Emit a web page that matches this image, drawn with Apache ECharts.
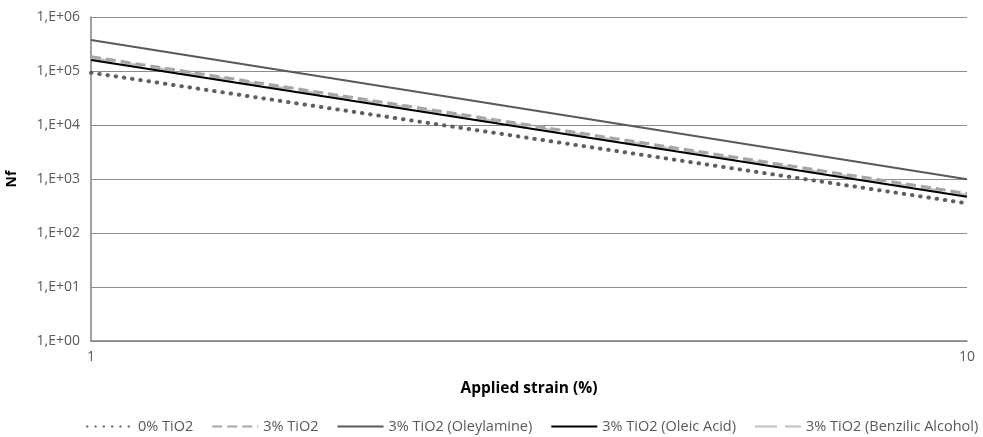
<!DOCTYPE html>
<html>
<head>
<meta charset="utf-8">
<script src="https://cdn.jsdelivr.net/npm/echarts@6/dist/echarts.min.js"></script>
<style>
  html, body { margin: 0; padding: 0; background: #fff; }
  #chart { width: 983px; height: 437px; }
</style>
</head>
<body>
<div id="chart"></div>
<script>
// Fatigue life (Nf) versus applied strain, power-law fits on log-log axes.
const strain = [1, 10];
const seriesNames = [
  '0% TiO2',
  '3% TiO2',
  '3% TiO2 (Oleylamine)',
  '3% TiO2 (Oleic Acid)',
  '3% TiO2 (Benzilic Alcohol)'
];
const nfPure = [93000, 355];
const nfTiO2 = [184000, 540];
const nfOleylamine = [375000, 990];
const nfOleicAcid = [160000, 470];
const nfBenzilic = [172000, 500];

const font = '"Open Sans", "Liberation Sans", sans-serif';
const pair = (ys) => strain.map((x, i) => [x, ys[i]]);

const styles = [
  { color: '#5f5f5f', width: 4, type: [0.5, 7.8], cap: 'round' },
  { color: '#a6a6a6', width: 3, type: [10, 5], cap: 'butt' },
  { color: '#595959', width: 2, type: 'solid', cap: 'butt' },
  { color: '#000000', width: 2, type: 'solid', cap: 'butt' },
  { color: '#bfbfbf', width: 3, type: [22, 8], cap: 'butt' }
];
const values = [nfPure, nfTiO2, nfOleylamine, nfOleicAcid, nfBenzilic];
const drawOrder = [4, 1, 2, 3, 0];

const chart = echarts.init(document.getElementById('chart'), null, { renderer: 'canvas' });
chart.setOption({
  animation: false,
  backgroundColor: '#ffffff',
  grid: { left: 91, right: 16, top: 17, bottom: 96, containLabel: false, outerBoundsMode: 'none' },
  legend: {
    top: 419,
    left: 86,
    right: 0,
    padding: 0,
    itemWidth: 46,
    itemHeight: 10,
    itemGap: 18,
    itemStyle: { opacity: 0, borderWidth: 0 },
    textStyle: { fontFamily: font, fontSize: 14.5, color: '#595959', padding: [0, 0, 0, 0] },
    data: seriesNames
  },
  xAxis: {
    type: 'log',
    logBase: 10,
    min: 1,
    max: 10,
    name: 'Applied strain (%)',
    nameLocation: 'middle',
    nameGap: 40,
    nameTextStyle: { fontFamily: font, fontSize: 15.5, fontWeight: 'bold', color: '#000' },
    axisLine: { lineStyle: { color: '#808080', width: 1.5 } },
    axisTick: { show: false },
    splitLine: { show: false },
    axisLabel: { fontFamily: font, fontSize: 14, color: '#595959', margin: 9 }
  },
  yAxis: {
    type: 'log',
    logBase: 10,
    min: 1,
    max: 1000000,
    name: 'Nf',
    nameLocation: 'middle',
    nameRotate: 90,
    nameGap: 72,
    nameTextStyle: { fontFamily: font, fontSize: 14, fontWeight: 'bold', color: '#000' },
    axisLine: { show: true, lineStyle: { color: '#808080', width: 1.5 } },
    axisTick: { show: false },
    splitLine: { show: true, lineStyle: { color: '#8c8c8c', width: 1 } },
    axisLabel: {
      fontFamily: font, fontSize: 14, color: '#595959', margin: 11,
      formatter: (v) => '1,E+' + String(Math.round(Math.log10(v))).padStart(2, '0')
    }
  },
  series: drawOrder.map((i) => ({
    name: seriesNames[i],
    type: 'line',
    data: pair(values[i]),
    symbol: 'none',
    showSymbol: false,
    color: styles[i].color,
    lineStyle: {
      color: styles[i].color,
      width: styles[i].width,
      type: styles[i].type,
      cap: styles[i].cap
    }
  }))
});
</script>
</body>
</html>
